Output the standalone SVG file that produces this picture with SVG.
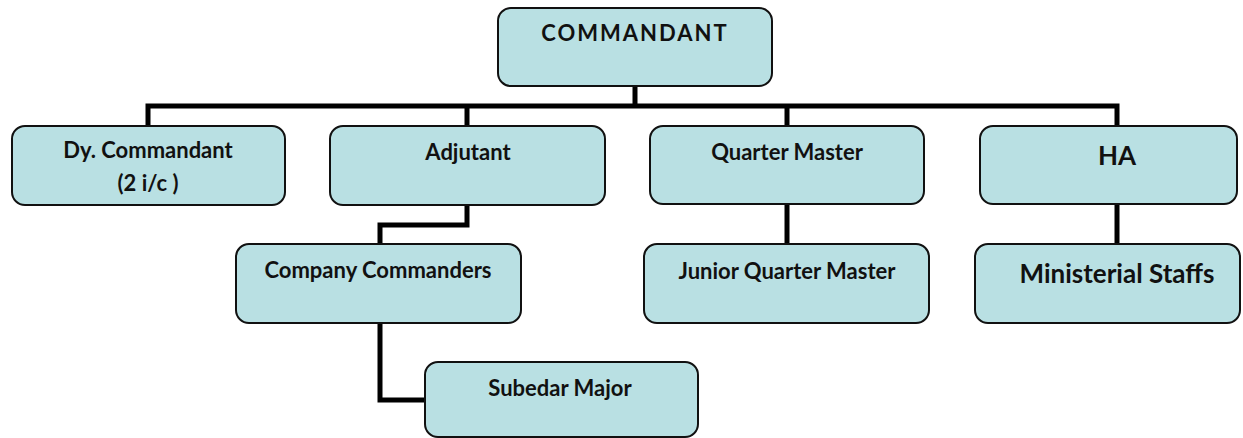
<svg xmlns="http://www.w3.org/2000/svg" width="1243" height="438" viewBox="0 0 1243 438">
<style>
.box{fill:#b9e0e3;stroke:#111;stroke-width:2}
.t{font-family:Lato,"Liberation Sans",sans-serif;font-weight:bold;font-size:22px;fill:#111;text-anchor:middle}
.big{font-size:26px}
.c{fill:none;stroke:#000;stroke-width:5;stroke-linejoin:miter}
</style>
<rect width="1243" height="438" fill="#fff"/>
<g id="connectors">
<path class="c" d="M635 87V106M148 126V106H1117V126M467 106V126M787 106V126"/>
<path class="c" d="M467 205V225H380V244"/>
<path class="c" d="M380 323V400H425"/>
<path class="c" d="M787 204V244"/>
<path class="c" d="M1117 204V244"/>
</g>
<g id="commandant"><rect class="box" x="498" y="8" width="274" height="78" rx="13"/><text class="t" x="635" y="41" font-size="19" letter-spacing="2">COMMANDANT</text></g>
<g id="dy-commandant"><rect class="box" x="12" y="126" width="273" height="79" rx="13"/><text class="t" x="148" y="158">Dy. Commandant</text><text class="t" x="148" y="191">(2 i/c )</text></g>
<g id="adjutant"><rect class="box" x="330" y="126" width="275" height="79" rx="13"/><text class="t" x="468" y="160">Adjutant</text></g>
<g id="quarter-master"><rect class="box" x="650" y="126" width="274" height="78" rx="13"/><text class="t" x="787" y="160">Quarter Master</text></g>
<g id="ha"><rect class="box" x="980" y="126" width="257" height="78" rx="13"/><text class="t big" x="1117" y="165">HA</text></g>
<g id="company-commanders"><rect class="box" x="236" y="244" width="285" height="79" rx="13"/><text class="t" x="378" y="278">Company Commanders</text></g>
<g id="junior-quarter-master"><rect class="box" x="644" y="244" width="285" height="79" rx="13"/><text class="t" x="787" y="279">Junior Quarter Master</text></g>
<g id="ministerial-staffs"><rect class="box" x="975" y="244" width="265" height="79" rx="13"/><text class="t big" x="1117" y="283">Ministerial Staffs</text></g>
<g id="subedar-major"><rect class="box" x="425" y="362" width="273" height="75" rx="13"/><text class="t" x="560" y="396">Subedar Major</text></g>
</svg>
